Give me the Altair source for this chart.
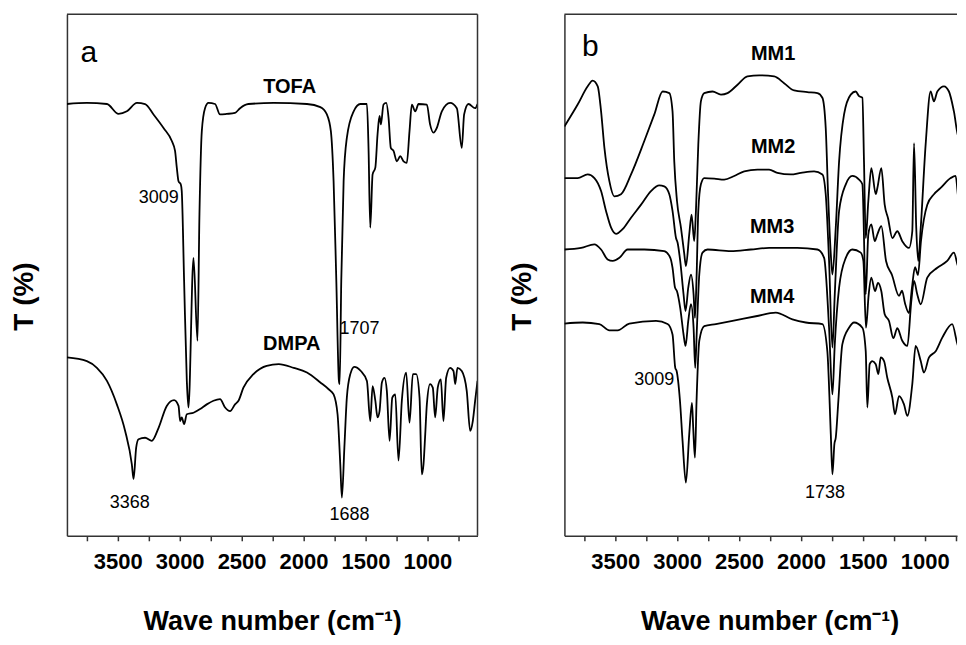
import altair as alt
import pandas as pd

# ---------------- data ----------------
tofa_wn = [3910, 3749, 3587, 3493, 3426, 3345, 3279, 3211, 3130, 3063, 3037, 3023, 3009, 2991, 2983,
           2964, 2942, 2929, 2888, 2856, 2840, 2821, 2795, 2767, 2714, 2674, 2620, 2553, 2512, 2445,
           2241, 1972, 1864, 1811, 1779, 1757, 1735, 1714, 1708, 1695, 1676, 1650, 1595, 1541, 1488,
           1475, 1461, 1442, 1420, 1402, 1386, 1375, 1354, 1332, 1313, 1295, 1273, 1246, 1219, 1192,
           1166, 1144, 1125, 1098, 1071, 1004, 978, 950, 924, 883, 816, 762, 722, 703, 668, 614, 595]
tofa_t = [82.8, 83.0, 82.8, 80.9, 81.4, 83.0, 82.8, 80.8, 78.2, 75.7, 73.8, 70.6, 68.0, 67.4, 66.1,
          48.9, 29.7, 24.6, 53.3, 37.4, 61.7, 77.6, 82.0, 83.0, 82.8, 80.8, 80.9, 81.1, 82.0, 82.8,
          83.0, 82.8, 82.2, 80.8, 77.6, 68.0, 48.9, 29.7, 29.1, 48.9, 68.0, 76.3, 81.4, 82.8, 82.8,
          74.4, 59.1, 69.3, 70.6, 77.0, 80.5, 78.9, 82.7, 83.0, 80.1, 74.4, 73.8, 71.8, 72.8, 71.8,
          71.5, 77.6, 82.7, 81.4, 82.8, 82.7, 78.9, 77.3, 78.2, 81.4, 83.0, 82.0, 74.4, 80.8, 82.8, 82.0, 82.8]

dmpa_wn = [3910, 3749, 3668, 3587, 3507, 3440, 3386, 3372, 3351, 3332, 3279, 3225, 3170, 3104, 3045,
           3009, 2996, 2983, 2964, 2942, 2888, 2835, 2781, 2727, 2674, 2633, 2593, 2553, 2525, 2485,
           2404, 2297, 2200, 2079, 1972, 1864, 1797, 1757, 1725, 1703, 1690, 1670, 1650, 1622, 1590,
           1537, 1488, 1461, 1442, 1420, 1402, 1386, 1367, 1346, 1327, 1305, 1283, 1259, 1233, 1206,
           1171, 1144, 1117, 1090, 1063, 1045, 1031, 1017, 1004, 978, 956, 937, 916, 891, 870,
           848, 816, 789, 775, 757, 722, 682, 654, 633, 614, 595]
dmpa_t = [34.2, 33.5, 32.2, 29.7, 25.2, 20.1, 13.7, 10.9, 16.9, 18.5, 18.8, 18.2, 20.7, 24.9, 26.0,
          24.9, 22.0, 22.7, 21.4, 23.3, 23.6, 24.3, 25.2, 25.9, 26.2, 24.6, 23.9, 25.2, 25.9, 28.4,
          31.0, 32.6, 32.9, 32.2, 31.3, 29.4, 28.1, 27.1, 23.3, 13.7, 7.3, 16.9, 26.5, 31.0, 32.4,
          31.6, 29.7, 22.0, 28.7, 25.9, 22.7, 23.9, 29.4, 30.3, 27.8, 18.2, 26.5, 27.1, 14.4, 25.9,
          31.3, 21.7, 31.0, 31.0, 26.5, 11.8, 13.7, 19.5, 25.2, 29.1, 28.4, 22.7, 28.4, 30.0, 22.0,
          30.3, 32.2, 31.6, 29.1, 32.2, 31.6, 27.8, 20.1, 22.0, 25.9, 29.7]

mm1_wn = [3910, 3803, 3722, 3682, 3641, 3614, 3587, 3547, 3507, 3453, 3372, 3265, 3184, 3117, 3063,
          3037, 3023, 3001, 2969, 2942, 2929, 2902, 2883, 2862, 2848, 2829, 2808, 2781, 2714, 2646,
          2593, 2512, 2432, 2337, 2216, 2136, 2055, 1948, 1867, 1827, 1800, 1781, 1759, 1746, 1719,
          1692, 1652, 1598, 1558, 1531, 1504, 1491, 1477, 1456, 1432, 1396, 1383, 1351, 1324, 1297,
          1262, 1222, 1182, 1128, 1101, 1087, 1069, 1053, 1033, 993, 953, 926, 899, 845, 805,
          765, 725, 706, 676]
mm1_t = [78.5, 82.7, 86.2, 87.3, 86.2, 81.4, 74.4, 68.0, 65.1, 65.5, 69.3, 75.7, 80.8, 85.2, 84.9,
         81.4, 71.8, 64.2, 59.1, 54.0, 51.7, 57.8, 61.6, 56.5, 62.3, 75.0, 83.3, 84.9, 85.2, 84.6,
         84.9, 86.5, 88.1, 88.3, 88.1, 86.8, 85.4, 85.1, 84.9, 84.0, 78.2, 65.5, 54.0, 50.1, 59.1,
         71.8, 80.8, 84.6, 85.2, 84.3, 84.0, 71.8, 57.1, 64.2, 70.5, 65.5, 66.7, 70.5, 63.5, 60.9,
         57.1, 58.4, 56.5, 55.2, 58.4, 75.3, 59.0, 52.7, 59.0, 75.1, 85.2, 83.3, 85.2, 86.2, 85.2,
         81.4, 76.2, 81.4, 83.9]

mm2_wn = [3910, 3803, 3722, 3668, 3614, 3574, 3533, 3493, 3440, 3372, 3291, 3211, 3144, 3104, 3063,
          3037, 3009, 2996, 2975, 2948, 2932, 2910, 2888, 2867, 2856, 2843, 2829, 2808, 2781, 2700,
          2620, 2539, 2458, 2351, 2257, 2190, 2082, 2001, 1894, 1827, 1800, 1773, 1746, 1727, 1692,
          1638, 1585, 1531, 1504, 1477, 1456, 1432, 1404, 1383, 1351, 1313, 1265, 1208, 1184, 1160,
          1128, 1104, 1079, 1055, 1031, 980, 926, 872, 791, 751, 725, 706, 676]
mm2_t = [68.6, 68.6, 69.3, 68.6, 66.1, 62.3, 59.1, 57.9, 58.8, 61.0, 63.5, 66.1, 67.2, 67.0, 65.5,
         62.3, 57.1, 56.2, 52.7, 46.3, 43.1, 47.6, 50.1, 46.3, 41.8, 49.5, 62.3, 67.4, 68.6, 68.5,
         68.3, 69.0, 69.9, 70.2, 70.2, 69.6, 69.3, 69.6, 69.9, 69.3, 65.5, 52.7, 36.1, 46.3, 62.3,
         67.4, 69.0, 68.3, 67.4, 46.3, 57.8, 59.7, 56.5, 57.8, 59.4, 52.7, 50.0, 46.0, 47.0, 44.6,
         42.7, 47.5, 51.5, 50.0, 56.5, 63.5, 65.5, 66.7, 68.6, 69.0, 64.2, 68.6, 69.3]

mm3_wn = [3910, 3775, 3668, 3614, 3561, 3520, 3466, 3400, 3265, 3104, 3055, 3037, 3017, 3001, 2975,
          2948, 2932, 2910, 2888, 2867, 2854, 2840, 2821, 2795, 2754, 2566, 2404, 2257, 2029, 1867,
          1813, 1773, 1746, 1727, 1692, 1638, 1585, 1517, 1496, 1475, 1453, 1432, 1402, 1378, 1351,
          1324, 1289, 1254, 1222, 1182, 1141, 1109, 1087, 1061, 1033, 980, 899, 819, 765, 725,
          706, 676]
mm3_t = [54.9, 55.2, 55.9, 54.9, 53.0, 52.7, 53.3, 54.9, 54.9, 54.6, 53.3, 51.4, 47.6, 46.9, 43.7,
         38.6, 36.4, 41.2, 44.4, 39.9, 32.2, 39.9, 50.1, 54.3, 54.9, 54.6, 54.9, 55.2, 55.2, 54.9,
         53.3, 39.9, 27.1, 36.7, 47.6, 53.3, 54.9, 54.3, 52.7, 39.9, 46.3, 49.5, 46.9, 48.5, 46.9,
         42.5, 41.2, 37.9, 39.8, 37.4, 36.4, 45.0, 48.9, 46.3, 44.4, 49.5, 51.4, 52.7, 54.3, 51.4,
         54.3, 55.2]

mm4_wn = [3910, 3762, 3628, 3547, 3480, 3386, 3170, 3077, 3037, 3015, 3004, 2977, 2956, 2929, 2902,
          2880, 2870, 2856, 2843, 2821, 2781, 2687, 2553, 2364, 2203, 2069, 1961, 1827, 1787, 1759,
          1746, 1730, 1719, 1698, 1666, 1612, 1571, 1504, 1477, 1464, 1445, 1424, 1396, 1375, 1356,
          1329, 1303, 1262, 1241, 1208, 1168, 1141, 1101, 1074, 1033, 1007, 966, 912, 859, 779,
          725, 698, 676]
mm4_t = [40.7, 40.9, 40.6, 39.4, 39.4, 40.7, 41.2, 40.6, 38.6, 32.2, 31.6, 25.9, 18.2, 10.2, 19.5,
         25.5, 20.7, 15.0, 25.9, 37.4, 40.2, 40.6, 41.2, 42.1, 42.8, 41.5, 40.9, 40.6, 35.4, 19.5,
         11.8, 17.6, 18.8, 25.9, 36.7, 39.9, 40.9, 39.9, 35.4, 24.6, 32.9, 33.5, 32.9, 31.0, 34.2,
         33.5, 30.3, 26.5, 23.3, 26.8, 25.2, 23.0, 29.1, 36.4, 33.5, 31.3, 34.2, 35.4, 38.0, 40.6,
         36.1, 39.3, 40.6]

# annotations
a_labels = ["TOFA", "DMPA"]
a_label_wn = [2112, 2095]
a_label_t = [86.0, 36.8]
a_nums = ["3009", "1707", "3368", "1688"]
a_num_wn = [3168, 1547, 3402, 1628]
a_num_t = [64.8, 39.7, 6.3, 4.0]

b_labels = ["MM1", "MM2", "MM3", "MM4"]
b_label_wn = [2225, 2225, 2233, 2233]
b_label_t = [92.3, 74.5, 59.2, 45.8]
b_nums = ["3009", "1738"]
b_num_wn = [3184, 1805]
b_num_t = [29.9, 8.2]

letters = ["a", "b"]
letter_wn = [3733, 3700]
letter_t = [92.5, 93.7]

x_ticks = [3750, 3500, 3250, 3000, 2750, 2500, 2250, 2000, 1750, 1500, 1250, 1000, 750]

# ---------------- chart ----------------
FONT = "Liberation Sans"
H = 522
FRAME = "#333333"


def series_frame(pairs):
    rows = []
    for name, wn, t in pairs:
        for w, v in zip(wn, t):
            rows.append({"series": name, "wn": w, "t": v})
    return pd.DataFrame(rows)


def panel(df, lab_df, num_df, let_df, domain, W, right_border, title_x):
    xs = alt.Scale(domain=domain, reverse=True, nice=False, zero=False)
    ys = alt.Scale(domain=[0, 100], nice=False, zero=False)
    xax = alt.Axis(values=x_ticks, format="d",
                   labelExpr="datum.value % 500 == 0 ? datum.label : ''",
                   title="Wave number (cm⁻¹)", titleFont=FONT, titleFontSize=27,
                   titleFontWeight="bold", titleColor="black", titlePadding=36, titleX=title_x,
                   labelFont=FONT, labelFontSize=22, labelFontWeight="bold", labelColor="black",
                   labelPadding=11, labelFlush=False, labelOverlap=False,
                   tickSize=5, tickWidth=1.5, tickColor=FRAME,
                   domainColor=FRAME, domainWidth=1.5, grid=False)
    yax = alt.Axis(title="T (%)", labels=False, ticks=False, grid=False,
                   domainColor=FRAME, domainWidth=1.5,
                   titleFont=FONT, titleFontSize=28, titleFontWeight="bold",
                   titleColor="black", titlePadding=28, titleY=282)
    X = alt.X("wn:Q", scale=xs, axis=xax)
    Y = alt.Y("t:Q", scale=ys, axis=yax)

    lines = alt.Chart(df).mark_line(color="black", strokeWidth=1.8, clip=True,
                                    interpolate="monotone").encode(
        x=X, y=Y, detail="series:N")
    labs = alt.Chart(lab_df).mark_text(font=FONT, fontSize=20, fontWeight="bold", color="black").encode(
        x=X, y=Y, text="label:N")
    nums = alt.Chart(num_df).mark_text(font=FONT, fontSize=18, color="black").encode(
        x=X, y=Y, text="label:N")
    lets = alt.Chart(let_df).mark_text(font=FONT, fontSize=30, color="black").encode(
        x=X, y=Y, text="label:N")
    one = pd.DataFrame({"k": [0]})
    top = alt.Chart(one).mark_rule(color=FRAME, strokeWidth=1.5).encode(
        x=alt.value(0), x2=alt.value(W), y=alt.value(0))
    layers = [lines, labs, nums, lets, top]
    if right_border:
        layers.append(alt.Chart(one).mark_rule(color=FRAME, strokeWidth=1.5).encode(
            x=alt.value(W), y=alt.value(0), y2=alt.value(H)))
    return alt.layer(*layers).properties(width=W, height=H)


df_a = series_frame([("TOFA", tofa_wn, tofa_t), ("DMPA", dmpa_wn, dmpa_t)])
df_b = series_frame([("MM1", mm1_wn, mm1_t), ("MM2", mm2_wn, mm2_t),
                     ("MM3", mm3_wn, mm3_t), ("MM4", mm4_wn, mm4_t)])

lab_a = pd.DataFrame({"label": a_labels, "wn": a_label_wn, "t": a_label_t})
num_a = pd.DataFrame({"label": a_nums, "wn": a_num_wn, "t": a_num_t})
let_a = pd.DataFrame({"label": letters[:1], "wn": letter_wn[:1], "t": letter_t[:1]})
lab_b = pd.DataFrame({"label": b_labels, "wn": b_label_wn, "t": b_label_t})
num_b = pd.DataFrame({"label": b_nums, "wn": b_num_wn, "t": b_num_t})
let_b = pd.DataFrame({"label": letters[1:], "wn": letter_wn[1:], "t": letter_t[1:]})

left = panel(df_a, lab_a, num_a, let_a, [595, 3910], 411, True, 205.5)
right = panel(df_b, lab_b, num_b, let_b, [740, 3910], 393, False, 205.5)

chart = alt.hconcat(left, right, spacing=30).properties(
    padding={"left": 3, "top": 5, "right": 0, "bottom": 0},
    background="white",
).configure_view(strokeWidth=0)

chart.save("out.html", embed_options={"renderer": "svg", "actions": False})
